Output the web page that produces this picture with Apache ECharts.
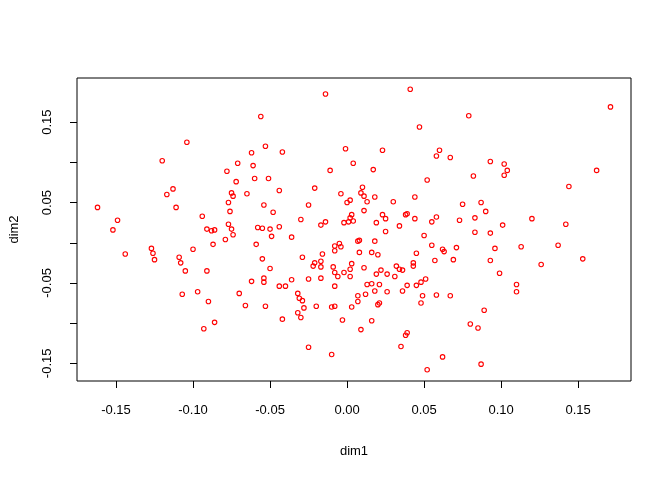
<!DOCTYPE html>
<html>
<head>
<meta charset="utf-8">
<script src="https://cdn.jsdelivr.net/npm/echarts@6/dist/echarts.min.js"></script>
<style>
html,body{margin:0;padding:0;background:#fff;}
#c{width:672px;height:480px;}
</style>
</head>
<body>
<div id="c"></div>
<script>
const dim1 = [-0.104,-0.120,-0.014,-0.056,-0.053,-0.062,-0.042,-0.001,-0.071,-0.061,
-0.078,-0.011,0.004,-0.072,-0.060,-0.051,0.041,0.079,0.047,0.023,
0.060,0.058,0.067,0.017,0.093,0.052,0.082,0.171,0.102,0.104,
0.102,0.162,-0.113,-0.117,-0.162,-0.111,-0.149,-0.094,-0.152,-0.091,
-0.088,-0.086,-0.087,-0.127,-0.126,-0.100,-0.144,-0.125,-0.109,-0.108,
-0.105,-0.091,-0.075,-0.074,-0.065,-0.044,-0.021,-0.004,-0.077,-0.054,
-0.025,0.000,0.002,-0.076,-0.048,-0.030,-0.014,-0.017,-0.077,-0.058,
-0.055,-0.050,-0.044,-0.075,-0.074,-0.049,-0.036,-0.079,-0.059,-0.002,
0.001,0.002,0.003,0.004,-0.005,-0.008,-0.004,-0.008,-0.016,-0.029,
-0.055,-0.021,-0.017,-0.022,-0.017,-0.009,0.003,-0.050,-0.008,-0.002,
0.002,-0.006,0.002,-0.062,-0.054,-0.054,-0.036,-0.025,-0.017,-0.044,
-0.040,-0.008,-0.070,-0.032,-0.031,-0.029,-0.066,-0.053,-0.028,-0.020,
-0.010,-0.008,0.003,-0.086,-0.042,-0.032,-0.030,-0.003,-0.025,-0.010,
-0.107,-0.097,-0.090,-0.093,0.010,0.009,0.011,0.018,0.044,0.030,
0.013,0.075,0.087,0.090,0.011,0.023,0.025,0.038,0.039,0.044,
0.058,0.055,0.073,0.083,0.019,0.034,0.025,0.083,0.093,0.050,
0.007,0.008,0.018,0.055,0.062,0.063,0.071,0.008,0.016,0.020,
0.045,0.043,0.043,0.057,0.069,0.093,0.011,0.032,0.034,0.036,
0.022,0.019,0.026,0.031,0.051,0.048,0.013,0.016,0.021,0.039,
0.045,0.007,0.012,0.018,0.026,0.036,0.049,0.058,0.067,0.007,
0.020,0.021,0.048,0.089,0.016,0.009,0.080,0.085,0.039,0.038,
0.035,0.062,0.087,0.052,0.144,0.120,0.101,0.142,0.096,0.113,
0.137,0.153,0.126,0.099,0.110,0.110];

const dim2 = [0.125,0.102,0.185,0.157,0.120,0.112,0.113,0.117,0.099,0.096,
0.089,0.090,0.099,0.076,0.080,0.080,0.191,0.158,0.144,0.115,
0.115,0.108,0.106,0.091,0.101,0.078,0.083,0.169,0.098,0.090,
0.084,0.090,0.067,0.060,0.044,0.044,0.028,0.033,0.016,0.017,
0.015,0.016,-0.002,-0.007,-0.013,-0.008,-0.014,-0.021,-0.018,-0.025,
-0.035,-0.035,0.062,0.058,0.061,0.065,0.068,0.061,0.050,0.047,
0.047,0.050,0.053,0.039,0.038,0.029,0.026,0.022,0.023,0.019,
0.018,0.017,0.020,0.017,0.010,0.008,0.007,0.004,-0.002,0.025,
0.026,0.031,0.035,0.027,-0.001,-0.004,-0.005,-0.010,-0.014,-0.018,
-0.020,-0.025,-0.023,-0.029,-0.030,-0.030,-0.026,-0.032,-0.037,-0.037,
-0.033,-0.042,-0.042,-0.048,-0.044,-0.049,-0.046,-0.045,-0.044,-0.054,
-0.054,-0.054,-0.063,-0.063,-0.069,-0.072,-0.078,-0.079,-0.081,-0.079,
-0.080,-0.079,-0.080,-0.099,-0.095,-0.087,-0.093,-0.096,-0.130,-0.139,
-0.064,-0.061,-0.073,-0.107,0.069,0.062,0.058,0.057,0.057,0.051,
0.051,0.048,0.050,0.039,0.040,0.035,0.030,0.035,0.036,0.030,
0.032,0.026,0.028,0.031,0.025,0.021,0.014,0.013,0.012,0.009,
0.002,0.003,0.002,-0.003,-0.008,-0.011,-0.006,-0.012,-0.012,-0.015,
-0.013,-0.025,-0.029,-0.022,-0.021,-0.022,-0.031,-0.029,-0.033,-0.034,
-0.034,-0.039,-0.039,-0.042,-0.045,-0.049,-0.052,-0.051,-0.052,-0.053,
-0.053,-0.066,-0.064,-0.060,-0.061,-0.060,-0.066,-0.065,-0.066,-0.073,
-0.077,-0.075,-0.075,-0.084,-0.097,-0.108,-0.101,-0.106,-0.112,-0.115,
-0.129,-0.142,-0.151,-0.158,0.070,0.030,0.022,0.023,-0.007,-0.005,
-0.003,-0.020,-0.027,-0.038,-0.052,-0.061];

const xTicks = [-0.15,-0.10,-0.05,0.00,0.05,0.10,0.15];
const xTickLabels = [-0.15,-0.10,-0.05,0.00,0.05,0.10,0.15];
const yTicks = [-0.15,-0.10,-0.05,0.00,0.05,0.10,0.15];
const yTickLabels = [-0.15,-0.05,0.05,0.15];

function rRange(v){
  const lo = Math.min.apply(null, v), hi = Math.max.apply(null, v);
  const pad = (hi - lo) * 0.04;
  return [lo - pad, hi + pad];
}
const xr = rRange(dim1), yr = rRange(dim2);

const points = dim1.map((x, i) => [x, dim2[i]]);
const font = 'Liberation Sans, Arial, Helvetica, sans-serif';

const chart = echarts.init(document.getElementById('c'), null, {renderer: 'canvas'});
chart.setOption({
  animation: false,
  backgroundColor: '#fff',
  grid: {left: 76, right: 41, top: 78, bottom: 99, show: true, borderColor: '#000', borderWidth: 1, backgroundColor: 'transparent'},
  xAxis: {
    type: 'value', min: xr[0], max: xr[1],
    name: 'dim1', nameLocation: 'middle', nameGap: 64,
    nameTextStyle: {color: '#000', fontSize: 13, fontFamily: font},
    axisLine: {show: false, onZero: false},
    splitLine: {show: false},
    axisTick: {show: true, inside: false, length: 7, lineStyle: {color: '#000', width: 1}, customValues: xTicks},
    axisLabel: {color: '#000', fontSize: 13, fontFamily: font, margin: 23, customValues: xTickLabels,
      formatter: v => v.toFixed(2)}
  },
  yAxis: {
    type: 'value', min: yr[0], max: yr[1],
    name: 'dim2', nameLocation: 'middle', nameGap: 56,
    nameTextStyle: {color: '#000', fontSize: 13, fontFamily: font},
    axisLine: {show: false, onZero: false},
    splitLine: {show: false},
    axisTick: {show: true, inside: false, length: 7, lineStyle: {color: '#000', width: 1}, customValues: yTicks},
    axisLabel: {color: '#000', fontSize: 13, fontFamily: font, margin: 23, rotate: 90, customValues: yTickLabels,
      formatter: v => v.toFixed(2)}
  },
  series: [{
    type: 'scatter',
    data: points,
    symbol: 'circle',
    symbolSize: 4.5,
    itemStyle: {color: 'rgba(255,255,255,0)', borderColor: '#ff0000', borderWidth: 1.1, opacity: 1},
    emphasis: {disabled: true}
  }]
});
</script>
</body>
</html>
